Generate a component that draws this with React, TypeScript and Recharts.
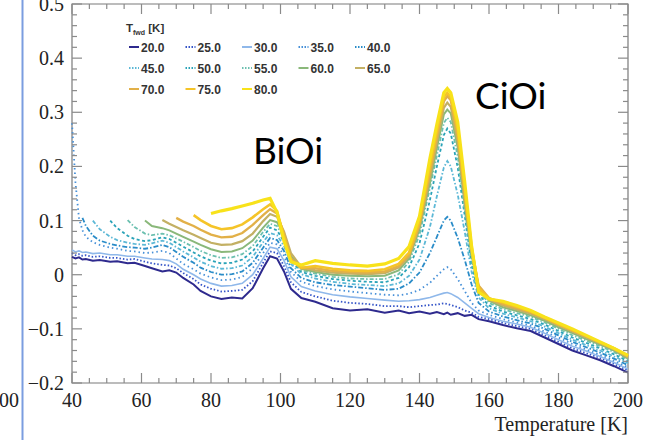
import { LineChart, Line, XAxis, YAxis, ReferenceArea } from 'recharts';

// temperature grid [K]
const T = [40, 41, 42, 43, 44, 46, 48, 51, 53, 56, 58, 61, 63, 66, 68, 70, 72, 75, 77, 80, 83, 86, 89, 92, 95, 97, 99, 101, 103, 106, 110, 115, 120, 125, 130, 134, 137, 140, 143, 145, 147, 148, 149, 151, 153, 155, 157, 160, 164, 168, 172, 176, 180, 184, 188, 192, 196, 200];

const S20 = [0.033, 0.030, 0.032, 0.028, 0.029, 0.026, 0.027, 0.024, 0.025, 0.021, 0.022, 0.016, 0.012, 0.006, 0.008, 0.004, -0.006, -0.018, -0.030, -0.040, -0.045, -0.042, -0.044, -0.025, 0.012, 0.034, 0.030, 0.006, -0.026, -0.043, -0.050, -0.062, -0.066, -0.064, -0.070, -0.066, -0.071, -0.068, -0.072, -0.069, -0.073, -0.070, -0.074, -0.071, -0.076, -0.074, -0.082, -0.086, -0.093, -0.099, -0.104, -0.116, -0.128, -0.140, -0.149, -0.158, -0.169, -0.181];
const S25 = [0.040, 0.036, 0.038, 0.035, 0.036, 0.033, 0.034, 0.031, 0.031, 0.028, 0.029, 0.024, 0.021, 0.018, 0.017, 0.012, 0.003, -0.008, -0.018, -0.026, -0.031, -0.030, -0.028, -0.012, 0.022, 0.043, 0.040, 0.016, -0.014, -0.032, -0.040, -0.048, -0.052, -0.054, -0.058, -0.058, -0.060, -0.058, -0.056, -0.055, -0.053, -0.054, -0.056, -0.060, -0.066, -0.070, -0.078, -0.082, -0.089, -0.095, -0.100, -0.112, -0.124, -0.136, -0.145, -0.154, -0.165, -0.177];
const S30 = [0.046, 0.042, 0.044, 0.041, 0.042, 0.039, 0.040, 0.037, 0.037, 0.034, 0.034, 0.031, 0.029, 0.028, 0.026, 0.020, 0.010, 0.000, -0.008, -0.016, -0.021, -0.020, -0.016, 0.000, 0.030, 0.051, 0.048, 0.026, -0.004, -0.022, -0.030, -0.037, -0.041, -0.044, -0.047, -0.049, -0.048, -0.046, -0.042, -0.038, -0.034, -0.033, -0.035, -0.042, -0.052, -0.062, -0.072, -0.079, -0.086, -0.091, -0.097, -0.108, -0.120, -0.132, -0.141, -0.151, -0.162, -0.174];
const S35 = [0.280, 0.170, 0.105, 0.082, 0.070, 0.060, 0.055, 0.050, 0.048, 0.044, 0.043, 0.040, 0.041, 0.044, 0.040, 0.030, 0.020, 0.010, 0.002, -0.005, -0.010, -0.009, -0.004, 0.012, 0.040, 0.059, 0.056, 0.035, 0.005, -0.013, -0.021, -0.027, -0.031, -0.034, -0.037, -0.038, -0.035, -0.028, -0.015, -0.002, 0.010, 0.014, 0.010, -0.008, -0.030, -0.052, -0.066, -0.074, -0.082, -0.088, -0.094, -0.105, -0.116, -0.128, -0.138, -0.148, -0.159, -0.171];
const S40 = [null, null, null, 0.105, 0.090, 0.072, 0.063, 0.057, 0.054, 0.051, 0.050, 0.048, 0.050, 0.055, 0.051, 0.042, 0.033, 0.022, 0.013, 0.005, 0.000, 0.001, 0.006, 0.022, 0.050, 0.068, 0.064, 0.044, 0.012, -0.006, -0.014, -0.019, -0.022, -0.025, -0.028, -0.026, -0.016, 0.004, 0.040, 0.070, 0.100, 0.107, 0.100, 0.068, 0.028, -0.018, -0.052, -0.068, -0.077, -0.084, -0.090, -0.100, -0.112, -0.124, -0.134, -0.144, -0.155, -0.167];
const S45 = [null, null, null, null, null, 0.100, 0.084, 0.070, 0.064, 0.059, 0.057, 0.055, 0.058, 0.063, 0.059, 0.051, 0.043, 0.032, 0.024, 0.016, 0.011, 0.012, 0.017, 0.033, 0.060, 0.077, 0.073, 0.053, 0.020, 0.001, -0.007, -0.013, -0.017, -0.019, -0.021, -0.016, -0.002, 0.028, 0.088, 0.145, 0.198, 0.210, 0.200, 0.148, 0.080, 0.005, -0.042, -0.062, -0.072, -0.079, -0.086, -0.096, -0.108, -0.120, -0.130, -0.140, -0.151, -0.163];
const S50 = [null, null, null, null, null, null, null, 0.100, 0.086, 0.072, 0.066, 0.062, 0.064, 0.069, 0.066, 0.059, 0.052, 0.041, 0.034, 0.026, 0.021, 0.022, 0.028, 0.043, 0.070, 0.087, 0.082, 0.061, 0.026, 0.005, -0.002, -0.008, -0.011, -0.013, -0.014, -0.006, 0.014, 0.058, 0.138, 0.200, 0.258, 0.270, 0.261, 0.198, 0.110, 0.018, -0.036, -0.057, -0.068, -0.075, -0.082, -0.092, -0.104, -0.116, -0.126, -0.136, -0.147, -0.160];
const S55 = [null, null, null, null, null, null, null, null, null, 0.101, 0.088, 0.076, 0.073, 0.076, 0.073, 0.067, 0.061, 0.051, 0.044, 0.036, 0.031, 0.032, 0.038, 0.053, 0.079, 0.094, 0.090, 0.068, 0.030, 0.008, 0.002, -0.004, -0.007, -0.008, -0.008, 0.001, 0.024, 0.074, 0.160, 0.220, 0.280, 0.290, 0.282, 0.218, 0.120, 0.028, -0.030, -0.052, -0.064, -0.071, -0.078, -0.088, -0.100, -0.112, -0.122, -0.132, -0.143, -0.157];
const S60 = [null, null, null, null, null, null, null, null, null, null, null, 0.100, 0.090, 0.086, 0.082, 0.076, 0.070, 0.061, 0.055, 0.047, 0.042, 0.043, 0.049, 0.063, 0.087, 0.101, 0.097, 0.075, 0.035, 0.011, 0.005, 0.000, -0.002, -0.003, -0.002, 0.008, 0.030, 0.084, 0.170, 0.234, 0.296, 0.305, 0.298, 0.235, 0.130, 0.036, -0.025, -0.048, -0.060, -0.067, -0.075, -0.085, -0.097, -0.108, -0.119, -0.129, -0.140, -0.155];
const S65 = [null, null, null, null, null, null, null, null, null, null, null, null, null, 0.101, 0.094, 0.088, 0.082, 0.074, 0.068, 0.059, 0.055, 0.056, 0.062, 0.076, 0.099, 0.112, 0.107, 0.080, 0.040, 0.014, 0.008, 0.004, 0.002, 0.001, 0.003, 0.013, 0.034, 0.090, 0.180, 0.245, 0.308, 0.318, 0.310, 0.246, 0.140, 0.042, -0.022, -0.046, -0.057, -0.064, -0.072, -0.082, -0.094, -0.105, -0.116, -0.127, -0.138, -0.153];
const S70 = [null, null, null, null, null, null, null, null, null, null, null, null, null, null, null, 0.105, 0.098, 0.090, 0.083, 0.074, 0.069, 0.070, 0.077, 0.092, 0.110, 0.121, 0.113, 0.075, 0.030, 0.012, 0.012, 0.007, 0.005, 0.004, 0.006, 0.016, 0.037, 0.094, 0.190, 0.255, 0.320, 0.330, 0.322, 0.258, 0.150, 0.048, -0.020, -0.043, -0.054, -0.061, -0.069, -0.080, -0.092, -0.103, -0.114, -0.125, -0.136, -0.151];
const S75 = [null, null, null, null, null, null, null, null, null, null, null, null, null, null, null, null, null, 0.110, 0.101, 0.090, 0.084, 0.086, 0.093, 0.106, 0.121, 0.130, 0.118, 0.070, 0.026, 0.013, 0.016, 0.011, 0.008, 0.007, 0.010, 0.020, 0.041, 0.100, 0.200, 0.265, 0.328, 0.336, 0.328, 0.268, 0.160, 0.052, -0.025, -0.044, -0.051, -0.059, -0.068, -0.079, -0.091, -0.102, -0.113, -0.125, -0.136, -0.150];
const S80 = [null, null, null, null, null, null, null, null, null, null, null, null, null, null, null, null, null, null, null, 0.113, 0.118, 0.122, 0.127, 0.132, 0.138, 0.141, 0.115, 0.062, 0.024, 0.018, 0.026, 0.021, 0.018, 0.016, 0.020, 0.030, 0.052, 0.108, 0.215, 0.278, 0.336, 0.344, 0.336, 0.282, 0.172, 0.052, -0.032, -0.045, -0.049, -0.057, -0.066, -0.078, -0.089, -0.100, -0.112, -0.124, -0.136, -0.149];

const T_FWD = ['20.0', '25.0', '30.0', '35.0', '40.0', '45.0', '50.0', '55.0', '60.0', '65.0', '70.0', '75.0', '80.0'];
const VALUES = [S20, S25, S30, S35, S40, S45, S50, S55, S60, S65, S70, S75, S80];
const COLORS = ['#2e2a8e', '#3555c8', '#8fb8ea', '#4790d8', '#2a8cc8', '#5cb8d6', '#2aa3b8', '#6cc0b0', '#8ab87a', '#c3b064', '#e2b048', '#f5c428', '#f8e21a'];
const DASHES = [undefined, '1.5 2', undefined, '1.5 3', '5 2 1.5 2', '4 2 1.5 2', '3 2.5', '4 2 1.5 2', undefined, undefined, undefined, undefined, undefined];
const WIDTHS = [2, 1.8, 1.6, 1.8, 1.8, 1.8, 1.8, 1.8, 2, 2.2, 2.4, 2.6, 3.2];

const X_TICKS = [40, 45, 50, 55, 60, 65, 70, 75, 80, 85, 90, 95, 100, 105, 110, 115, 120, 125, 130, 135, 140, 145, 150, 155, 160, 165, 170, 175, 180, 185, 190, 195, 200];
const X_MAJOR = [40, 60, 80, 100, 120, 140, 160, 180, 200];
const Y_TICKS = [-0.2, -0.18, -0.16, -0.14, -0.12, -0.1, -0.08, -0.06, -0.04, -0.02, 0, 0.02, 0.04, 0.06, 0.08, 0.1, 0.12, 0.14, 0.16, 0.18, 0.2, 0.22, 0.24, 0.26, 0.28, 0.3, 0.32, 0.34, 0.36, 0.38, 0.4, 0.42, 0.44, 0.46, 0.48, 0.5];
const Y_MAJOR = [-0.2, -0.1, 0, 0.1, 0.2, 0.3, 0.4, 0.5];

const data = T.map((t, i) => {
  const row: Record<string, number | null> = { t };
  T_FWD.forEach((k, j) => { row['s' + k] = VALUES[j][i]; });
  return row;
});

// plot frame (px)
const TOP = 4;
const BOTTOM = 383;
const LEFT = 72;
const RIGHT = 628;
const TICK_COLOR = '#8a8a8a';
const SERIF = '"Liberation Serif", "Times New Roman", serif';

const fmtY = (v: number) => (v === 0 ? '0' : v < 0 ? '\u2212' + Math.abs(v).toFixed(1) : v.toFixed(1));

function XTick(props: any) {
  const { x, payload } = props;
  const major = X_MAJOR.includes(payload.value);
  const len = major ? 10 : 5;
  return (
    <g>
      <line x1={x} x2={x} y1={BOTTOM} y2={BOTTOM - len} stroke={TICK_COLOR} strokeWidth={1.2} />
      <line x1={x} x2={x} y1={TOP} y2={TOP + len} stroke={TICK_COLOR} strokeWidth={1.2} />
      {major && (
        <text x={x} y={BOTTOM + 24} textAnchor="middle" fontFamily={SERIF} fontSize={20} fill="#222">
          {payload.value}
        </text>
      )}
    </g>
  );
}

function YTick(props: any) {
  const { y, payload } = props;
  const major = Y_MAJOR.some((m) => Math.abs(m - payload.value) < 1e-9);
  const len = major ? 10 : 5;
  return (
    <g>
      <line x1={LEFT} x2={LEFT + len} y1={y} y2={y} stroke={TICK_COLOR} strokeWidth={1.2} />
      <line x1={RIGHT} x2={RIGHT - len} y1={y} y2={y} stroke={TICK_COLOR} strokeWidth={1.2} />
      {major && (
        <text x={LEFT - 8} y={y + 7} textAnchor="end" fontFamily={SERIF} fontSize={20} fill="#222">
          {fmtY(payload.value)}
        </text>
      )}
    </g>
  );
}

function LegendBox() {
  const colX = [129, 185.5, 242, 298.5, 355];
  const rowY = [47, 68, 89];
  return (
    <g fontFamily='"Liberation Sans", Arial, sans-serif' fontWeight="bold" fill="#333">
      <text x={126} y={32} fontSize={11.5}>
        T<tspan fontSize={7} dy={3}>fwd</tspan>
        <tspan dy={-3}> [K]</tspan>
      </text>
      {T_FWD.map((k, i) => {
        const x = colX[i % 5];
        const y = rowY[Math.floor(i / 5)];
        return (
          <g key={k}>
            <line x1={x} x2={x + 10} y1={y} y2={y} stroke={COLORS[i]} strokeWidth={2} strokeDasharray={DASHES[i] ? '1.5 1.5' : undefined} />
            <text x={x + 12} y={y + 4.5} fontSize={12}>{k}</text>
          </g>
        );
      })}
    </g>
  );
}

export default function App() {
  return (
    <div style={{ position: 'absolute', left: 0, top: 0, width: 652, height: 440, background: '#fff' }}>
      <LineChart width={652} height={440} data={data} margin={{ top: TOP, right: 652 - RIGHT, left: 8, bottom: 27 }}>
        <XAxis
          dataKey="t"
          type="number"
          domain={[40, 200]}
          ticks={X_TICKS}
          interval={0}
          tickLine={false}
          axisLine={false}
          tick={<XTick />}
          height={30}
        />
        <YAxis
          type="number"
          domain={[-0.2, 0.5]}
          ticks={Y_TICKS}
          interval={0}
          tickLine={false}
          axisLine={false}
          tick={<YTick />}
          width={64}
          allowDataOverflow
        />
        <ReferenceArea x1={40} x2={200} y1={-0.2} y2={0.5} fill="none" stroke="#7a7a7a" strokeWidth={1.2} />
        {T_FWD.map((k, i) => (
          <Line
            key={k}
            dataKey={'s' + k}
            type="linear"
            stroke={COLORS[i]}
            strokeWidth={WIDTHS[i]}
            strokeDasharray={DASHES[i]}
            dot={false}
            isAnimationActive={false}
            connectNulls={false}
          />
        ))}
      </LineChart>
      <svg width={652} height={440} style={{ position: 'absolute', left: 0, top: 0, pointerEvents: 'none' }}>
        <line x1={22.5} x2={22.5} y1={0} y2={440} stroke="#7b9de0" strokeWidth={2} />
        <text x={-1} y={407} fontFamily={SERIF} fontSize={20} fill="#222">00</text>
        <text x={628} y={431} textAnchor="end" fontFamily={SERIF} fontSize={20} fill="#222">Temperature [K]</text>
        <text x={253} y={164} fontFamily='Lato, "Open Sans", sans-serif' fontSize={37} fill="#000">BiOi</text>
        <text x={475} y={109} fontFamily='Lato, "Open Sans", sans-serif' fontSize={37} fill="#000">CiOi</text>
        <LegendBox />
      </svg>
    </div>
  );
}
